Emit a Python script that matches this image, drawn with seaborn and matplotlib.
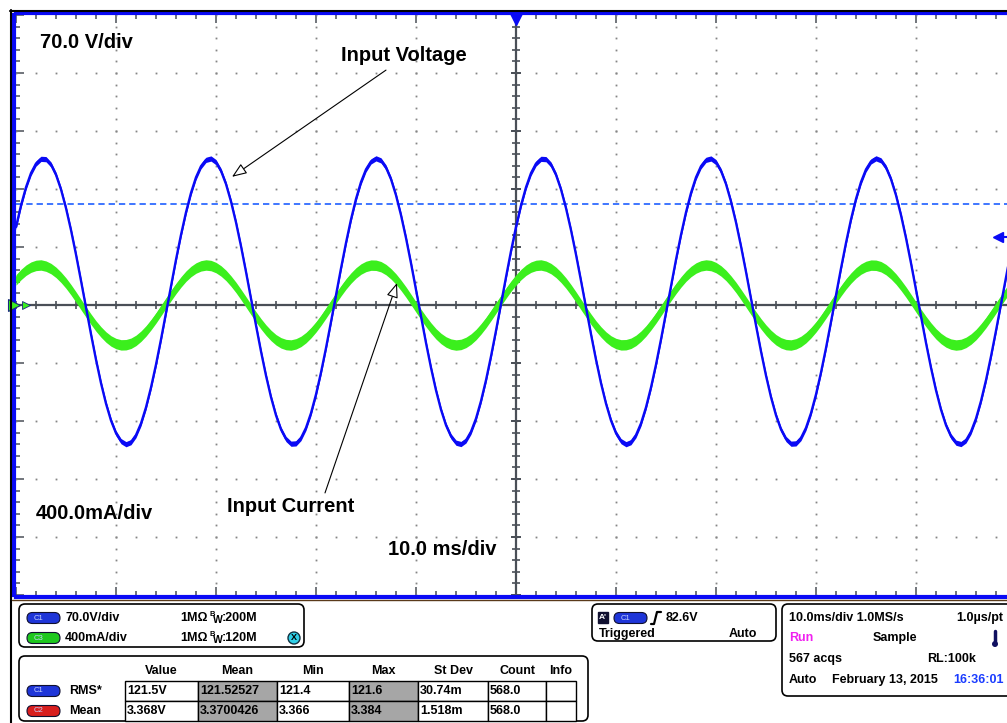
import numpy as np
import pandas as pd
import matplotlib.pyplot as plt
import seaborn as sns
from matplotlib.patches import FancyBboxPatch, Rectangle, Circle

# time base: 10 ms/div, one reading every 0.5 ms across the 10 divisions
time_ms = np.arange(-50, 50.25, 0.5)

# C1 input voltage (V), every 0.5 ms
voltage_v = [
    94.2, 120.2, 142.1, 159.2, 170.7, 176.4, 176.0, 169.5, 157.2, 139.5,
    116.9, 90.4, 60.9, 29.3, -3.1, -35.2, -66.0, -94.3, -119.0, -139.4,
    -154.7, -164.3, -168.0, -165.5, -157.0, -142.9, -123.5, -99.5, -71.9, -41.5,
    -9.6, 22.9, 54.7, 84.7, 111.9, 135.3, 154.1, 167.5, 175.2, 176.8,
    172.4, 161.9, 146.0, 124.9, 99.7, 71.0, 40.0, 7.7, -24.6, -56.0,
    -85.2, -111.2, -133.1, -150.2, -161.7, -167.4, -167.0, -160.5, -148.2, -130.5,
    -107.9, -81.4, -51.9, -20.3, 12.1, 44.2, 75.0, 103.3, 128.0, 148.4,
    163.7, 173.3, 177.0, 174.5, 166.0, 151.9, 132.5, 108.5, 80.9, 50.5,
    18.6, -13.9, -45.7, -75.7, -102.9, -126.3, -145.1, -158.5, -166.2, -167.8,
    -163.4, -152.9, -137.0, -115.9, -90.7, -62.0, -31.0, 1.3, 33.6, 65.0,
    94.2, 120.2, 142.1, 159.2, 170.7, 176.4, 176.0, 169.5, 157.2, 139.5,
    116.9, 90.4, 60.9, 29.3, -3.1, -35.2, -66.0, -94.3, -119.0, -139.4,
    -154.7, -164.3, -168.0, -165.5, -157.0, -142.9, -123.5, -99.5, -71.9, -41.5,
    -9.6, 22.9, 54.7, 84.7, 111.9, 135.3, 154.1, 167.5, 175.2, 176.8,
    172.4, 161.9, 146.0, 124.9, 99.7, 71.0, 40.0, 7.7, -24.6, -56.0,
    -85.2, -111.2, -133.1, -150.2, -161.7, -167.4, -167.0, -160.5, -148.2, -130.5,
    -107.9, -81.4, -51.9, -20.3, 12.1, 44.2, 75.0, 103.3, 128.0, 148.4,
    163.7, 173.3, 177.0, 174.5, 166.0, 151.9, 132.5, 108.5, 80.9, 50.5,
    18.6, -13.9, -45.7, -75.7, -102.9, -126.3, -145.1, -158.5, -166.2, -167.8,
    -163.4, -152.9, -137.0, -115.9, -90.7, -62.0, -31.0, 1.3, 33.6, 65.0,
    94.2]

# C3 input current (A), every 0.5 ms
current_a = [
    0.173, 0.210, 0.240, 0.261, 0.273, 0.276, 0.268, 0.251, 0.225, 0.191,
    0.151, 0.105, 0.055, 0.003, -0.048, -0.098, -0.145, -0.186, -0.221, -0.248,
    -0.266, -0.275, -0.274, -0.264, -0.244, -0.215, -0.179, -0.136, -0.089, -0.038,
    0.014, 0.065, 0.114, 0.159, 0.199, 0.231, 0.255, 0.270, 0.276, 0.272,
    0.258, 0.235, 0.204, 0.165, 0.121, 0.072, 0.021, -0.031, -0.082, -0.130,
    -0.173, -0.210, -0.240, -0.261, -0.273, -0.276, -0.268, -0.251, -0.225, -0.191,
    -0.151, -0.105, -0.055, -0.003, 0.048, 0.098, 0.145, 0.186, 0.221, 0.248,
    0.266, 0.275, 0.274, 0.264, 0.244, 0.215, 0.179, 0.136, 0.089, 0.038,
    -0.014, -0.065, -0.114, -0.159, -0.199, -0.231, -0.255, -0.270, -0.276, -0.272,
    -0.258, -0.235, -0.204, -0.165, -0.121, -0.072, -0.021, 0.031, 0.082, 0.130,
    0.173, 0.210, 0.240, 0.261, 0.273, 0.276, 0.268, 0.251, 0.225, 0.191,
    0.151, 0.105, 0.055, 0.003, -0.048, -0.098, -0.145, -0.186, -0.221, -0.248,
    -0.266, -0.275, -0.274, -0.264, -0.244, -0.215, -0.179, -0.136, -0.089, -0.038,
    0.014, 0.065, 0.114, 0.159, 0.199, 0.231, 0.255, 0.270, 0.276, 0.272,
    0.258, 0.235, 0.204, 0.165, 0.121, 0.072, 0.021, -0.031, -0.082, -0.130,
    -0.173, -0.210, -0.240, -0.261, -0.273, -0.276, -0.268, -0.251, -0.225, -0.191,
    -0.151, -0.105, -0.055, -0.003, 0.048, 0.098, 0.145, 0.186, 0.221, 0.248,
    0.266, 0.275, 0.274, 0.264, 0.244, 0.215, 0.179, 0.136, 0.089, 0.038,
    -0.014, -0.065, -0.114, -0.159, -0.199, -0.231, -0.255, -0.270, -0.276, -0.272,
    -0.258, -0.235, -0.204, -0.165, -0.121, -0.072, -0.021, 0.031, 0.082, 0.130,
    0.173]

volts_per_div = 70.0
amps_per_div = 0.4
trigger_level_v = 82.6
cursor_level_v = 122.5

# measurement table
meas_headers = ['Value', 'Mean', 'Min', 'Max', 'St Dev', 'Count', 'Info']
meas_rms = ['121.5V', '121.52527', '121.4', '121.6', '30.74m', '568.0', '']
meas_mean = ['3.368V', '3.3700426', '3.366', '3.384', '1.518m', '568.0', '']

sns.set_style('white')
plt.rcParams['font.family'] = ['Liberation Sans', 'DejaVu Sans']
plt.rcParams['text.color'] = 'black'

df = pd.DataFrame({'t': time_ms,
                   'v_div': np.array(voltage_v) / volts_per_div,
                   'i_div': np.array(current_a) / amps_per_div})

BLUE = '#0a0af5'
GREEN = '#3bef1d'
GRAY = '#4a4f57'

fig = plt.figure(figsize=(10.07, 7.23), dpi=100)
fig.patch.set_facecolor('white')
ax = fig.add_axes([16 / 1007, 128 / 723, 1000 / 1007, 580 / 723])
ax.set_xlim(-50, 50)
ax.set_ylim(-5, 5)

# graticule dots
for yy in [-4, -3, -2, -1, 1, 2, 3, 4]:
    xs = np.arange(-50, 50.1, 2)
    ax.plot(xs, [yy] * len(xs), ls='none', marker='s', ms=1.3, mew=0, color='#858585', zorder=1)
for xx in [-40, -30, -20, -10, 10, 20, 30, 40]:
    ys = np.arange(-5, 5.01, 0.2)
    ax.plot([xx] * len(ys), ys, ls='none', marker='s', ms=1.3, mew=0, color='#858585', zorder=1)

# centre crosshair with ticks
ax.axhline(0, color=GRAY, lw=1.6, zorder=2)
ax.axvline(0, color=GRAY, lw=1.6, zorder=2)
xm = np.arange(-50, 50.1, 2)
ax.plot(xm, [0] * len(xm), ls='none', marker='|', ms=5.5, mew=1.2, color=GRAY, zorder=2)
ym = np.arange(-5, 5.01, 0.2)
ax.plot([0] * len(ym), ym, ls='none', marker='_', ms=5.5, mew=1.2, color=GRAY, zorder=2)
ax.plot([0] * 11, np.arange(-5, 5.1, 1), ls='none', marker='_', ms=7.5, mew=1.4, color=GRAY, zorder=2)

# traces
ax.fill_between(df['t'], df['i_div'] - 0.09, df['i_div'] + 0.09, color=GREEN, lw=0, zorder=3)
sns.lineplot(data=df, x='t', y='i_div', color=GREEN, lw=3, ax=ax, legend=False, zorder=3)
ax.fill_between(df['t'], df['v_div'] - 0.045, df['v_div'] + 0.045, color=BLUE, lw=0, zorder=4)
sns.lineplot(data=df, x='t', y='v_div', color=BLUE, lw=1.7, ax=ax, legend=False, zorder=4)

# cursor / trigger markers
ax.axhline(cursor_level_v / volts_per_div, color='#2f6bff', lw=1.3, ls=(0, (3.5, 2.2)), zorder=3)
trig = trigger_level_v / volts_per_div
ax.plot([48.3, 50], [trig, trig], color=BLUE, lw=1.5, zorder=5)
ax.plot(48.2, trig, marker='<', ms=7, color=BLUE, zorder=5, clip_on=False)
ax.plot(0, 4.93, marker='v', ms=8, color=BLUE, zorder=6, clip_on=False)
ax.plot(-50.2, 0, marker='>', ms=9, color=GREEN, mec='#1a2a80', mew=0.8, zorder=6, clip_on=False)
ax.plot(-49.0, 0, marker='>', ms=6, color=GREEN, mec='#1a2a80', mew=0.6, zorder=6, clip_on=False)

# labels and arrows
ax.text(-47.6, 4.52, '70.0 V/div', fontsize=14.5, fontweight='bold', va='center')
ax.text(-48.0, -3.59, '400.0mA/div', fontsize=14.5, fontweight='bold', va='center')
ax.text(-12.8, -4.22, '10.0 ms/div', fontsize=14.5, fontweight='bold', va='center')
ax.text(-11.2, 4.31, 'Input Voltage', fontsize=14.5, fontweight='bold', ha='center', va='center')
ax.text(-22.5, -3.48, 'Input Current', fontsize=14.5, fontweight='bold', ha='center', va='center')
arrow = dict(arrowstyle='-|>,head_length=0.9,head_width=0.35', facecolor='white',
             edgecolor='black', lw=0.8, shrinkA=0, shrinkB=0)
ax.annotate('', xy=(-28.4, 2.21), xytext=(-13.0, 4.05), arrowprops=arrow, zorder=7)
ax.annotate('', xy=(-11.9, 0.38), xytext=(-19.1, -3.24), arrowprops=arrow, zorder=7)

# border and ticks
for side in ['left', 'right', 'top', 'bottom']:
    ax.spines[side].set_color(BLUE)
    ax.spines[side].set_linewidth(3)
    ax.spines[side].set_position(('outward', 1.44))
ax.set_xticks(np.arange(-50, 51, 10))
ax.set_xticks(np.arange(-50, 51, 2), minor=True)
ax.set_yticks(np.arange(-5, 6, 1))
ax.set_yticks(np.arange(-5, 5.01, 0.2), minor=True)
ax.tick_params(which='both', direction='in', top=True, right=True, bottom=True, left=True,
               labelbottom=False, labelleft=False, color=GRAY, width=1.1)
ax.tick_params(which='major', length=7)
ax.tick_params(which='minor', length=4.3)
ax.set_xlabel('')
ax.set_ylabel('')

# status panel drawn in pixel coordinates
ov = fig.add_axes([0, 0, 1, 1], zorder=5)
ov.set_xlim(0, 1007)
ov.set_ylim(723, 0)
ov.axis('off')
ov.patch.set_alpha(0)
ov.plot([10.5, 10.5], [10, 723], color='black', lw=1.5)
ov.plot([10, 1007], [10.5, 10.5], color='black', lw=1.5)
ov.plot([12, 1007], [599.5, 599.5], color='#5a3a1a', lw=1)


def box(x, y, w, h):
    ov.add_patch(FancyBboxPatch((x, y), w, h, boxstyle='round,pad=0,rounding_size=6',
                                fc='white', ec='black', lw=1.2))


def pill(x, yc, fc, label, w=33, h=11):
    ov.add_patch(FancyBboxPatch((x, yc - h / 2), w, h,
                                boxstyle=f'round,pad=0,rounding_size={h / 2}',
                                fc=fc, ec='#101030', lw=0.8))
    ov.text(x + w * 0.35, yc, label, color='#c8d4ff', fontsize=5.5, ha='center', va='center')


def txt(x, y, s, color='black', ha='left', size=9):
    ov.text(x, y, s, fontsize=size, fontweight='bold', color=color, ha=ha, va='center')


# channel box
box(19, 604, 285, 43)
pill(27, 618, '#1e35d8', 'C1')
pill(27, 638, '#1ec81e', 'C3')
txt(65, 618, '70.0V/div')
txt(65, 638, '400mA/div')
for yy, bw in [(618, ':200M'), (638, ':120M')]:
    txt(180, yy, '1MΩ')
    ov.text(209, yy - 3, 'B', fontsize=5.5, fontweight='bold', va='center')
    ov.text(213, yy + 2, 'W', fontsize=7.5, fontweight='bold', va='center')
    txt(222, yy, bw)
ov.add_patch(Circle((294, 638), 6, fc='#30d0e8', ec='#103040', lw=1))
ov.text(294, 638, 'X', fontsize=6.5, fontweight='bold', ha='center', va='center')

# measurement table
box(19, 656, 569, 65)
col_edges = [125, 198, 277, 349, 418, 488, 546, 576]
for i, h in enumerate(meas_headers):
    txt((col_edges[i] + col_edges[i + 1]) / 2, 671, h, ha='center')
for r, (row, yc) in enumerate([(meas_rms, 691), (meas_mean, 711)]):
    for i, val in enumerate(row):
        fc = '#a6a6a6' if i in (1, 3) else 'white'
        ov.add_patch(Rectangle((col_edges[i], yc - 10), col_edges[i + 1] - col_edges[i], 20,
                               fc=fc, ec='black', lw=1))
        txt(col_edges[i] + 2, yc, val)
pill(27, 691, '#1e35d8', 'C1')
pill(27, 711, '#d81e1e', 'C2')
txt(69, 691, 'RMS*')
txt(69, 711, 'Mean')

# trigger box
box(592, 604, 184, 37)
ov.add_patch(Rectangle((598, 612), 10, 11, fc='#101030', ec='#101030'))
ov.text(603, 617.5, "A'", color='white', fontsize=6, fontweight='bold', ha='center', va='center')
pill(614, 618, '#1e35d8', 'C1')
ov.plot([651, 654, 657, 661], [624, 624, 612, 612], color='black', lw=1.6)
txt(666, 618, '82.6V')
txt(599, 634, 'Triggered')
txt(757, 634, 'Auto', ha='right')

# acquisition box
box(782, 604, 240, 92)
txt(789, 618, '10.0ms/div 1.0MS/s')
txt(1003, 618, '1.0µs/pt', ha='right')
txt(789, 638, 'Run', color='#f020f0')
txt(873, 638, 'Sample')
ov.plot([995, 995], [631, 642], color='#101060', lw=2.5)
ov.add_patch(Circle((995, 644), 3, fc='#101060', ec='none'))
txt(789, 659, '567 acqs')
txt(927, 659, 'RL:100k')
txt(789, 680, 'Auto')
txt(832, 680, 'February 13, 2015')
txt(1004, 680, '16:36:01', color='#1a3cff', ha='right')

fig.savefig('out.png', dpi=100)
